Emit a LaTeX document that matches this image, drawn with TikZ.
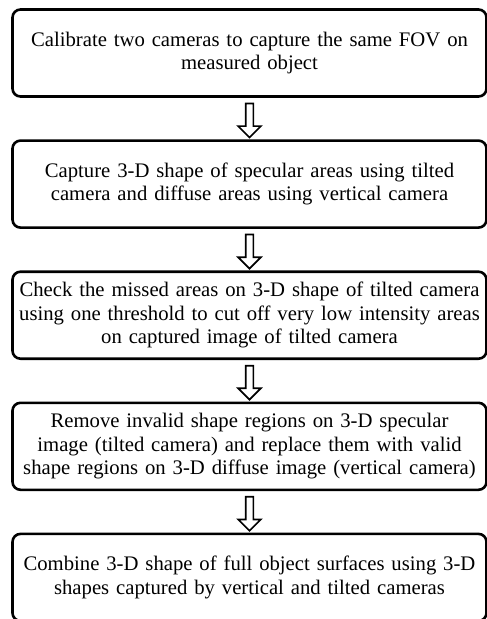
\documentclass[tikz,border=0pt]{standalone}
\usepackage{fontspec}
\setmainfont{Liberation Serif}
\usetikzlibrary{shapes.arrows,calc}

\begin{document}
\begin{tikzpicture}[x=1pt,y=1pt]
\tikzstyle{block} = [rectangle, draw=black, line width=2.6pt, rounded corners=8pt,
text width=474pt, align=center, minimum height=87pt, inner sep=0pt,
font=\fontsize{20.7}{23.5}\selectfont]
\tikzstyle{down} = [single arrow, draw=black, line width=1.7pt, fill=white,
single arrow head extend=7.5pt, single arrow tip angle=90, minimum height=34pt,
inner sep=3pt, shape border rotate=270]
\useasboundingbox (0,0) rectangle (487,-619);
\matrix [row sep=41.5pt, inner sep=0pt, anchor=north] at (249.5,-8)
{
% row 1
\node [block] (calib) {Calibrate two cameras to capture the same FOV on\\
measured object}; \\
% row 2
\node [block] (capture) {Capture 3-D shape of specular areas using tilted\\
camera and diffuse areas using vertical camera}; \\
% row 3
\node [block] (check) {Check the missed areas on 3-D shape of tilted camera\\
using one threshold to cut off very low intensity areas\\
on captured image of tilted camera}; \\
% row 4
\node [block] (remove) {Remove invalid shape regions on 3-D specular\\
image (tilted camera) and replace them with valid\\
shape regions on 3-D diffuse image (vertical camera)}; \\
% row 5
\node [block] (combine) {Combine 3-D shape of full object surfaces using 3-D\\
shapes captured by vertical and tilted cameras}; \\
};
% hollow arrows between the steps
\node [down] (a1) at ($(calib.south)!0.5!(capture.north)$) {};
\node [down] (a2) at ($(capture.south)!0.5!(check.north)$) {};
\node [down] (a3) at ($(check.south)!0.5!(remove.north)$) {};
\node [down] (a4) at ($(remove.south)!0.5!(combine.north)$) {};
\end{tikzpicture}
\end{document}
